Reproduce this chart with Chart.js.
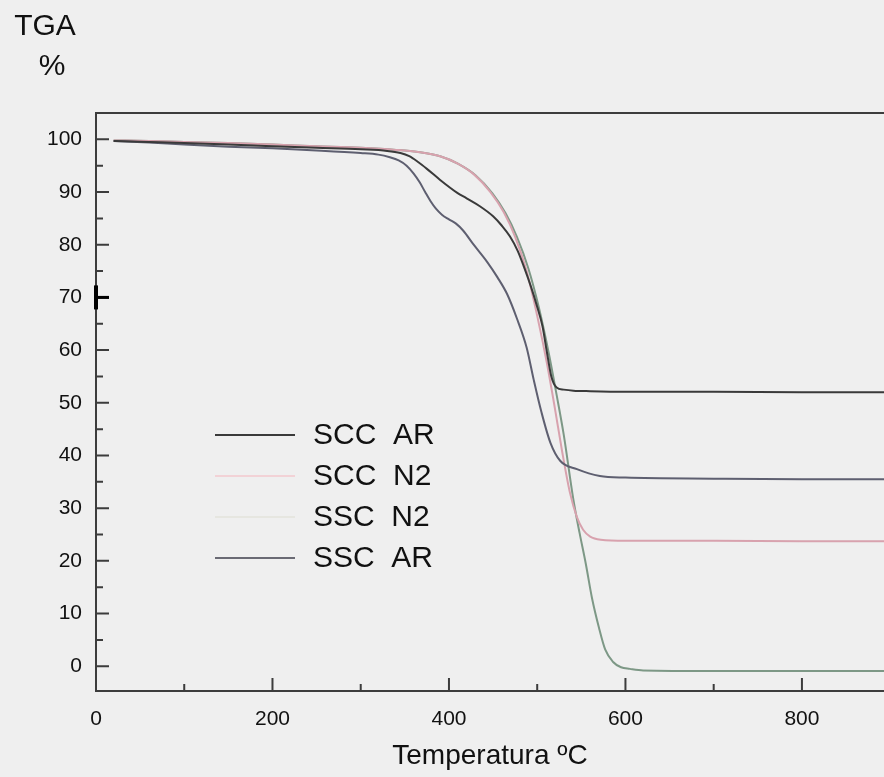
<!DOCTYPE html>
<html>
<head>
<meta charset="utf-8">
<script src="https://cdn.jsdelivr.net/npm/chart.js@4/dist/chart.umd.min.js"></script>
<style>
  html, body { margin: 0; padding: 0; background: #efefef; }
  #wrap { width: 884px; height: 777px; position: relative; }
</style>
</head>
<body>
<div id="wrap"><canvas id="tga" width="884" height="777"></canvas></div>
<script>
(function () {
    'use strict';

    // temperatures (ºC) and mass (%), one pair of lists per curve
    var sccArTemp = [20, 60, 100, 150, 200, 250, 300, 330, 345, 355, 365, 375, 390, 409, 420, 435, 450, 460, 469, 478, 485, 493, 500, 506, 511, 516, 522, 530, 541, 560, 600, 700, 800, 893];
    var sccArMass = [99.7, 99.5, 99.3, 99.0, 98.7, 98.4, 98.1, 97.8, 97.4, 96.8, 95.7, 94.4, 92.3, 89.9, 88.8, 87.3, 85.4, 83.6, 81.6, 78.8, 75.8, 72.0, 68.2, 64.5, 59.6, 55.0, 52.9, 52.5, 52.3, 52.2, 52.1, 52.1, 52.0, 52.0];

    var sccN2Temp = [20, 60, 100, 150, 200, 250, 300, 340, 365, 390, 410, 428, 447, 462, 475, 488, 500, 511, 520, 528, 537, 545, 552, 560, 572, 600, 700, 800, 893];
    var sccN2Mass = [99.8, 99.7, 99.5, 99.3, 99.0, 98.7, 98.4, 98.0, 97.6, 96.8, 95.4, 93.4, 90.0, 86.2, 81.5, 75.0, 66.5, 57.5, 49.0, 41.0, 33.0, 28.3, 25.9, 24.6, 24.0, 23.8, 23.8, 23.7, 23.7];

    var sscN2Temp = [20, 60, 100, 150, 200, 250, 300, 340, 365, 390, 410, 430, 449, 464, 477, 490, 502, 513, 522, 530, 541, 548, 555, 562, 570, 577, 586, 595, 605, 620, 700, 800, 893];
    var sscN2Mass = [99.8, 99.7, 99.5, 99.3, 99.0, 98.7, 98.4, 98.0, 97.6, 96.8, 95.4, 93.2, 89.8, 86.0, 81.5, 75.5, 68.0, 59.5, 51.5, 44.0, 31.6, 25.3, 19.5, 13.0, 7.3, 3.2, 0.8, -0.2, -0.5, -0.8, -0.9, -0.9, -0.9];

    var sscArTemp = [20, 60, 100, 150, 200, 250, 300, 320, 333, 343, 352, 360, 367, 373, 379, 385, 392, 400, 408, 416, 428, 443, 455, 466, 477, 488, 496, 505, 515, 526, 545, 571, 600, 700, 800, 893];
    var sscArMass = [99.7, 99.4, 99.0, 98.6, 98.3, 97.9, 97.4, 97.1, 96.6, 96.0, 95.0, 93.5, 91.8, 90.0, 88.3, 86.9, 85.7, 84.8, 84.0, 82.7, 80.0, 76.8, 73.8, 70.6, 66.0, 60.5, 54.4, 48.1, 42.4, 39.0, 37.4, 36.1, 35.8, 35.6, 35.5, 35.5];

    var seriesLabels = ['SCC  AR', 'SCC  N2', 'SSC  N2', 'SSC  AR'];

    var xTicks = [0, 100, 200, 300, 400, 500, 600, 700, 800];
    var yTicks = [0, 5, 10, 15, 20, 25, 30, 35, 40, 45, 50, 55, 60, 65, 70, 75, 80, 85, 90, 95, 100];

    var lineColors = ['#3a3a3a', '#d8a2ae', '#7d9886', '#5e5f70'];
    var legendColors = ['#3a3a3a', '#f2d2d6', '#e6e6e0', '#6a6a74'];
    var FONT = '"Liberation Sans", Arial, sans-serif';

    function pts(t, m) {
        return t.map(function (v, i) { return { x: v, y: m[i] }; });
    }

    var curves = [
        pts(sccArTemp, sccArMass),
        pts(sccN2Temp, sccN2Mass),
        pts(sscN2Temp, sscN2Mass),
        pts(sscArTemp, sscArMass)
    ];

    // draw order: faint ones first so the dark curves stay on top
    var order = [2, 1, 3, 0];

    var datasets = curves.map(function (d, i) {
        return {
            label: seriesLabels[i],
            data: d,
            borderColor: lineColors[i],
            borderWidth: 2,
            pointRadius: 0,
            fill: false,
            cubicInterpolationMode: 'monotone',
            order: order.indexOf(i) * -1
        };
    });

    var framePlugin = {
        id: 'frame',
        afterDatasetsDraw: function (chart) {
            var ctx = chart.ctx;
            var a = chart.chartArea;
            var xs = chart.scales.x;
            var ys = chart.scales.y;
            ctx.save();
            ctx.strokeStyle = '#3c3c3c';
            ctx.lineWidth = 2;
            ctx.beginPath();
            ctx.moveTo(chart.width, a.top);
            ctx.lineTo(a.left, a.top);
            ctx.lineTo(a.left, a.bottom);
            ctx.lineTo(chart.width, a.bottom);
            ctx.stroke();

            ctx.beginPath();
            xTicks.forEach(function (v) {
                var px = xs.getPixelForValue(v);
                var len = v % 200 === 0 ? 13 : 7;
                ctx.moveTo(px, a.bottom);
                ctx.lineTo(px, a.bottom - len);
            });
            yTicks.forEach(function (v) {
                var py = ys.getPixelForValue(v);
                var len = v % 10 === 0 ? 13 : 7;
                ctx.moveTo(a.left, py);
                ctx.lineTo(a.left + len, py);
            });
            ctx.stroke();

            // heavy mark at 70 as in the scan
            var p70 = ys.getPixelForValue(70);
            ctx.fillStyle = '#000';
            ctx.fillRect(a.left - 2, p70 - 12, 4, 24);
            ctx.fillRect(a.left, p70 - 1.5, 13, 3);

            // axis unit at top left
            ctx.fillStyle = '#111';
            ctx.font = '30px ' + FONT;
            ctx.textAlign = 'center';
            ctx.textBaseline = 'middle';
            ctx.fillText('TGA', 45, 27);
            ctx.fillText('%', 52, 67);

            // legend
            ctx.textAlign = 'left';
            ctx.lineWidth = 2;
            seriesLabels.forEach(function (lab, i) {
                var y = 435 + i * 41;
                ctx.strokeStyle = legendColors[i];
                ctx.beginPath();
                ctx.moveTo(215, y);
                ctx.lineTo(295, y);
                ctx.stroke();
                ctx.fillStyle = '#111';
                ctx.fillText(lab, 313, y + 1);
            });
            ctx.restore();
        }
    };

    new Chart(document.getElementById('tga'), {
        type: 'line',
        data: { datasets: datasets },
        options: {
            responsive: false,
            animation: false,
            devicePixelRatio: 1,
            layout: { padding: { top: 113, right: 0, left: 0, bottom: 0 } },
            plugins: { legend: { display: false }, tooltip: { enabled: false } },
            scales: {
                x: {
                    type: 'linear',
                    min: 0,
                    max: 893,
                    afterFit: function (s) { s.height = 86; },
                    afterBuildTicks: function (s) { s.ticks = xTicks.map(function (v) { return { value: v }; }); },
                    grid: { display: false, drawTicks: false },
                    border: { display: false },
                    ticks: {
                        autoSkip: false,
                        maxRotation: 0,
                        padding: 16,
                        color: '#111',
                        font: { family: FONT, size: 21 },
                        callback: function (v) { return v % 200 === 0 ? String(v) : ''; }
                    },
                    title: {
                        display: true,
                        text: 'Temperatura ºC',
                        color: '#111',
                        font: { family: FONT, size: 28 },
                        padding: { top: 0, bottom: 4 }
                    }
                },
                y: {
                    min: -4.7,
                    max: 105,
                    afterFit: function (s) { s.width = 96; },
                    afterBuildTicks: function (s) { s.ticks = yTicks.map(function (v) { return { value: v }; }); },
                    grid: { display: false, drawTicks: false },
                    border: { display: false },
                    ticks: {
                        autoSkip: false,
                        padding: 14,
                        color: '#111',
                        font: { family: FONT, size: 21 },
                        callback: function (v) { return v % 10 === 0 ? String(v) : ''; }
                    }
                }
            }
        },
        plugins: [framePlugin]
    });
})();
</script>
</body>
</html>
